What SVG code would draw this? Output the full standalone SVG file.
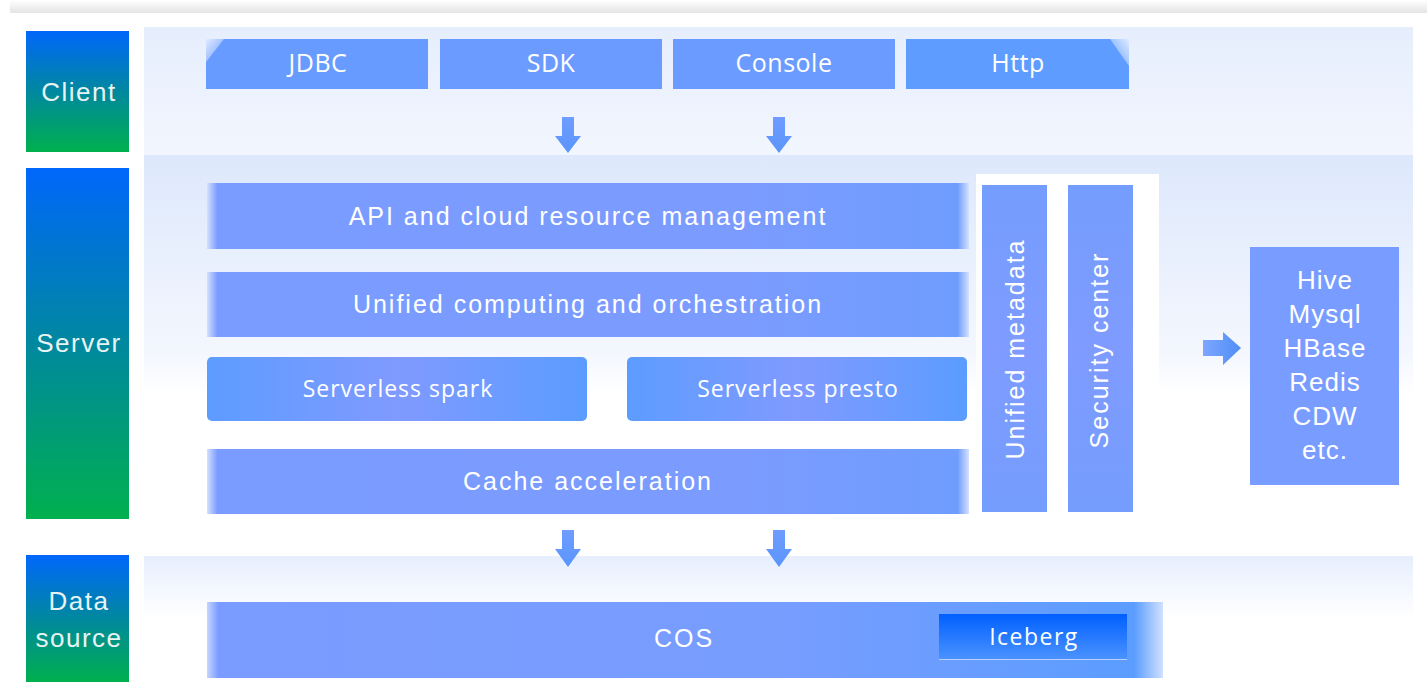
<svg xmlns="http://www.w3.org/2000/svg" width="1427" height="693" viewBox="0 0 1427 693">
<defs>
<linearGradient id="gLabel" x1="0" y1="0" x2="0" y2="1"><stop offset="0" stop-color="#0067fb"/><stop offset="0.5" stop-color="#00889f"/><stop offset="1" stop-color="#00b04e"/></linearGradient>
<linearGradient id="gTop" x1="0" y1="0" x2="0" y2="1"><stop offset="0" stop-color="#ffffff"/><stop offset="1" stop-color="#e4e4e4"/></linearGradient>
<linearGradient id="gClientPanel" x1="0" y1="0" x2="0" y2="1"><stop offset="0" stop-color="#e6eefd"/><stop offset="1" stop-color="#f2f6fe"/></linearGradient>
<linearGradient id="gServerPanel" x1="0" y1="0" x2="0" y2="1"><stop offset="0" stop-color="#dde8fc"/><stop offset="0.5" stop-color="#f4f7fe"/><stop offset="0.6" stop-color="#ffffff"/></linearGradient>
<linearGradient id="gDataPanel" x1="0" y1="0" x2="0" y2="1"><stop offset="0" stop-color="#e6eefd"/><stop offset="1" stop-color="#ffffff"/></linearGradient>
<linearGradient id="gGlossL" x1="0" y1="0" x2="1" y2="1"><stop offset="0" stop-color="#ffffff" stop-opacity="0.8"/><stop offset="1" stop-color="#ffffff" stop-opacity="0"/></linearGradient>
<linearGradient id="gGlossR" x1="1" y1="0" x2="0" y2="1"><stop offset="0" stop-color="#ffffff" stop-opacity="0.8"/><stop offset="1" stop-color="#ffffff" stop-opacity="0"/></linearGradient>
<linearGradient id="gBar" x1="0" y1="0" x2="1" y2="0"><stop offset="0" stop-color="#d4e0ff"/><stop offset="0.014" stop-color="#7a9bff"/><stop offset="0.7" stop-color="#7b9bff"/><stop offset="0.985" stop-color="#6f9dfe"/><stop offset="1" stop-color="#d4e0ff"/></linearGradient>
<linearGradient id="gEngine" x1="0" y1="0" x2="1" y2="0"><stop offset="0" stop-color="#5d9cff"/><stop offset="0.5" stop-color="#809aff"/><stop offset="1" stop-color="#5b9cff"/></linearGradient>
<linearGradient id="gCol" x1="0" y1="0" x2="0" y2="1"><stop offset="0" stop-color="#749dfe"/><stop offset="0.5" stop-color="#7f9bff"/><stop offset="1" stop-color="#749dfe"/></linearGradient>
<linearGradient id="gCOS" x1="0" y1="0" x2="1" y2="0"><stop offset="0" stop-color="#c6d6ff"/><stop offset="0.012" stop-color="#7a9bff"/><stop offset="0.6" stop-color="#779dff"/><stop offset="0.97" stop-color="#5b9dff"/><stop offset="1" stop-color="#d0e0ff"/></linearGradient>
<linearGradient id="gIce" x1="0" y1="0" x2="0" y2="1"><stop offset="0" stop-color="#0060ff"/><stop offset="1" stop-color="#4c93ff"/></linearGradient>
<linearGradient id="gArrow" x1="0" y1="0" x2="0" y2="1"><stop offset="0" stop-color="#6f9cff"/><stop offset="1" stop-color="#5a95fb"/></linearGradient>
<linearGradient id="gArrowR" x1="0" y1="0" x2="1" y2="0"><stop offset="0" stop-color="#7da6ff"/><stop offset="1" stop-color="#4f8ef8"/></linearGradient>
<style>
.lbl{font-family:"Liberation Sans",Arial,sans-serif;font-size:26px;fill:#e8f4f4;text-anchor:middle;letter-spacing:1.5px;}
.ct{font-family:"Open Sans","Noto Sans",sans-serif;font-size:25px;fill:#ffffff;text-anchor:middle;letter-spacing:0.5px;}
.bt{font-family:"Liberation Sans",Arial,sans-serif;font-size:25px;fill:#ffffff;text-anchor:middle;letter-spacing:2px;}
.ht{font-family:"Liberation Sans",Arial,sans-serif;font-size:26px;fill:#ffffff;text-anchor:middle;letter-spacing:1px;}
.st{font-family:"Open Sans","Noto Sans",sans-serif;font-size:23px;fill:#ffffff;text-anchor:middle;letter-spacing:1px;}
.it{font-family:"Open Sans","Noto Sans",sans-serif;font-size:23px;fill:#ffffff;text-anchor:middle;letter-spacing:1.5px;}
</style>
</defs>
<rect x="0" y="0" width="1427" height="693" fill="#ffffff"/>
<rect x="10" y="0" width="1417" height="13" fill="url(#gTop)"/>

<g id="panels">
<rect x="144" y="27" width="1269" height="128" fill="url(#gClientPanel)"/>
<rect x="144" y="155" width="1269" height="400" fill="url(#gServerPanel)"/>
<rect x="144" y="556" width="1269" height="62" fill="url(#gDataPanel)"/>
<rect x="976" y="174" width="183" height="350" fill="#ffffff"/>
</g>

<g id="label-client"><rect x="26" y="31" width="103" height="121" fill="url(#gLabel)"/><text class="lbl" x="79" y="101">Client</text></g>
<g id="label-server"><rect x="26" y="168" width="103" height="351" fill="url(#gLabel)"/><text class="lbl" x="79" y="352">Server</text></g>
<g id="label-data"><rect x="26" y="555" width="103" height="127" fill="url(#gLabel)"/><text class="lbl" x="79" y="610">Data</text><text class="lbl" x="79" y="647">source</text></g>

<g id="jdbc"><rect x="206" y="39" width="222" height="50" fill="#689bff"/><path d="M206 39 L224 39 L206 62 Z" fill="url(#gGlossL)"/><text class="ct" x="318" y="72">JDBC</text></g>
<g id="sdk"><rect x="440" y="39" width="222" height="50" fill="#6c9bff"/><text class="ct" x="551" y="72">SDK</text></g>
<g id="console"><rect x="673" y="39" width="222" height="50" fill="#6c9bff"/><text class="ct" x="784" y="72">Console</text></g>
<g id="http"><rect x="906" y="39" width="223" height="50" fill="#5f9cff"/><path d="M1110 39 L1129 39 L1129 66 Z" fill="url(#gGlossR)"/><text class="ct" x="1018" y="72">Http</text></g>

<g id="api"><rect x="207" y="183" width="762" height="66" fill="url(#gBar)"/><text class="bt" x="588" y="225">API and cloud resource management</text></g>
<g id="unified-computing"><rect x="207" y="272" width="762" height="65" fill="url(#gBar)"/><text class="bt" x="588" y="313">Unified computing and orchestration</text></g>
<g id="spark"><rect x="207" y="357" width="380" height="64" rx="5" fill="url(#gEngine)"/><text class="st" x="398" y="397">Serverless spark</text></g>
<g id="presto"><rect x="627" y="357" width="340" height="64" rx="5" fill="url(#gEngine)"/><text class="st" x="798" y="397">Serverless presto</text></g>
<g id="cache"><rect x="207" y="449" width="762" height="65" fill="url(#gBar)"/><text class="bt" x="588" y="490">Cache acceleration</text></g>

<g id="metadata"><rect x="982" y="185" width="65" height="327" fill="url(#gCol)"/><text class="bt" transform="translate(1024,349) rotate(-90)" x="0" y="0">Unified metadata</text></g>
<g id="security"><rect x="1068" y="185" width="65" height="327" fill="url(#gCol)"/><text class="bt" transform="translate(1108,350) rotate(-90)" x="0" y="0">Security center</text></g>

<g id="external"><rect x="1250" y="247" width="149" height="238" fill="#789cff"/>
<text class="ht" x="1325" y="289">Hive</text>
<text class="ht" x="1325" y="323">Mysql</text>
<text class="ht" x="1325" y="357">HBase</text>
<text class="ht" x="1325" y="391">Redis</text>
<text class="ht" x="1325" y="425">CDW</text>
<text class="ht" x="1325" y="459">etc.</text></g>

<g id="cos"><rect x="207" y="602" width="956" height="76" fill="url(#gCOS)"/><text class="bt" x="684" y="647">COS</text></g>
<g id="iceberg"><rect x="939" y="614" width="188" height="46" fill="url(#gIce)"/><line x1="939" y1="659.5" x2="1127" y2="659.5" stroke="#b8d0ff" stroke-width="1"/><text class="it" x="1034" y="645">Iceberg</text></g>

<g id="connectors">
<path d="M562 117 H574 V136 H581 L568 153 L555 136 H562 Z" fill="url(#gArrow)"/>
<path d="M773 117 H785 V136 H792 L779 153 L766 136 H773 Z" fill="url(#gArrow)"/>
<path d="M562 530 H574 V549 H581 L568 567 L555 549 H562 Z" fill="url(#gArrow)"/>
<path d="M773 530 H785 V549 H792 L779 567 L766 549 H773 Z" fill="url(#gArrow)"/>
<path d="M1203 340 H1223 V332 L1241 348 L1223 365 V356 H1203 Z" fill="url(#gArrowR)"/>
</g>
</svg>
